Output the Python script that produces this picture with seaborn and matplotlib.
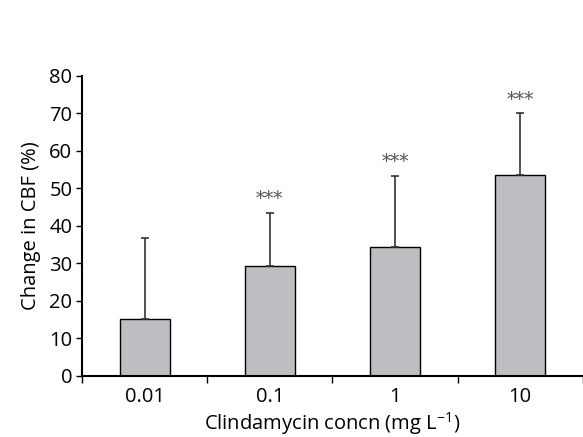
import numpy as np
import pandas as pd
import matplotlib
matplotlib.use("Agg")
import matplotlib.pyplot as plt
import seaborn as sns
from matplotlib.ticker import FixedLocator

# datos
concn = ["0.01", "0.1", "1", "10"]
cambio_cbf = [15.2, 29.3, 34.3, 53.6]
error_sup = [21.6, 14.2, 19.1, 16.4]
signif = ["", "***", "***", "***"]

df = pd.DataFrame({"concn": concn, "cbf": cambio_cbf})

sns.set_style("ticks")
plt.rcParams["font.family"] = ["Open Sans", "DejaVu Sans"]
plt.rcParams["mathtext.fontset"] = "custom"
plt.rcParams["mathtext.rm"] = "Open Sans"
plt.rcParams["text.color"] = "black"
plt.rcParams["axes.labelcolor"] = "black"
plt.rcParams["xtick.color"] = "black"
plt.rcParams["ytick.color"] = "black"

fig = plt.figure(figsize=(5.83, 4.37), dpi=100)
ax = fig.add_axes([0.1407, 0.1396, 0.859, 0.6865])

sns.barplot(data=df, x="concn", y="cbf", color="#bdbec2", width=0.4,
            edgecolor="black", linewidth=1.0, saturation=1, errorbar=None, ax=ax)

pos = np.arange(len(concn))
ax.errorbar(pos, cambio_cbf, yerr=[np.zeros(len(concn)), error_sup], fmt="none",
            ecolor="#333333", elinewidth=1.2, capsize=3, capthick=1.2)

for x, y, e, s in zip(pos, cambio_cbf, error_sup, signif):
    if s:
        ax.text(x, y + e + 1.2, s, ha="center", va="bottom", fontsize=13,
                family=["DejaVu Serif"], color="#555555")

ax.set_xlim(-0.5, 3.5)
ax.set_ylim(0, 80)
ax.set_yticks(range(0, 81, 10))
ax.tick_params(axis="y", labelsize=14.5, length=4, width=1, direction="out", pad=3)
ax.tick_params(axis="x", which="major", length=0, labelsize=14.5, pad=8)
ax.xaxis.set_minor_locator(FixedLocator([-0.5, 0.5, 1.5, 2.5, 3.5]))
ax.tick_params(axis="x", which="minor", length=5, width=1, direction="out")
ax.set_xlabel("Clindamycin concn (mg L$^{\\mathregular{-1}}$)", fontsize=14.5, labelpad=2)
ax.set_ylabel("Change in CBF (%)", fontsize=14.5, labelpad=6)

for side in ["top", "right"]:
    ax.spines[side].set_visible(False)
for side in ["left", "bottom"]:
    ax.spines[side].set_linewidth(1.5)
    ax.spines[side].set_color("black")

fig.savefig("out.png", dpi=100)
